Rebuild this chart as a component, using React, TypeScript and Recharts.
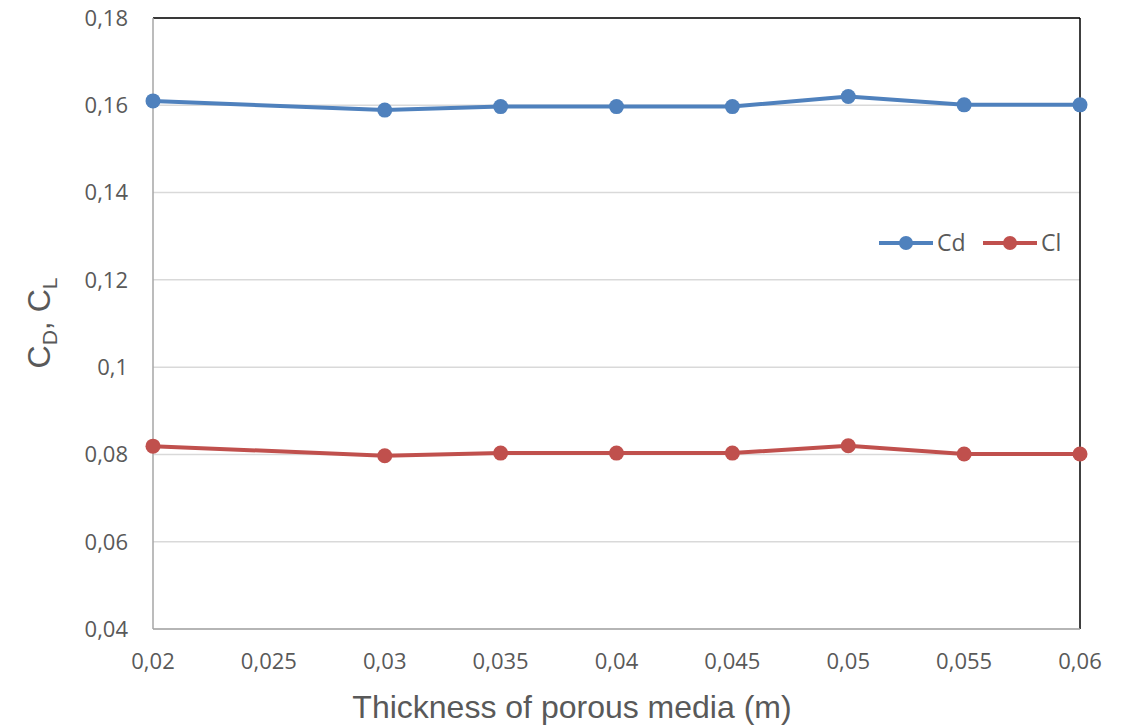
import React from "react";
import {
  LineChart,
  Line,
  XAxis,
  YAxis,
  CartesianGrid,
  ReferenceLine,
} from "recharts";

const thickness = [0.02, 0.03, 0.035, 0.04, 0.045, 0.05, 0.055, 0.06];
const cdValues = [0.161, 0.1589, 0.1597, 0.1597, 0.1597, 0.162, 0.1601, 0.1601];
const clValues = [0.0819, 0.0797, 0.0803, 0.0803, 0.0803, 0.082, 0.0801, 0.0801];
const xTicks = [0.02, 0.025, 0.03, 0.035, 0.04, 0.045, 0.05, 0.055, 0.06];
const yTicks = [0.04, 0.06, 0.08, 0.1, 0.12, 0.14, 0.16, 0.18];
const seriesNames = ["Cd", "Cl"];
const xTitle = "Thickness of porous media (m)";

const data = thickness.map((t, i) => ({ t, Cd: cdValues[i], Cl: clValues[i] }));

const BLUE = "#4f81bd";
const RED = "#c0504d";
const TEXT = "#595959";
const fmt = (v: number) => String(v).replace(".", ",");

const LegendBox = () => {
  const colors = [BLUE, RED];
  return (
    <svg width={220} height={44} style={{ position: "absolute", left: 879, top: 221 }}>
      {seriesNames.map((name, i) => {
        const x0 = i * 104;
        return (
          <g key={name}>
            <line x1={x0} x2={x0 + 54} y1={22} y2={22} stroke={colors[i]} strokeWidth={4} />
            <circle cx={x0 + 27} cy={22} r={7} fill={colors[i]} />
            <text x={x0 + 58} y={30} fontSize={23} fill={TEXT} fontFamily="Open Sans">
              {name}
            </text>
          </g>
        );
      })}
    </svg>
  );
};

const YLabel = () => (
  <text
    transform="translate(50,323) rotate(-90)"
    textAnchor="middle"
    fontSize={32}
    fill={TEXT}
    fontFamily="Liberation Sans"
  >
    <tspan>C</tspan>
    <tspan fontSize={21} dy={7}>D</tspan>
    <tspan dy={-7}>, C</tspan>
    <tspan fontSize={21} dy={7}>L</tspan>
  </text>
);

const XLabel = () => (
  <text
    x={572}
    y={718}
    textAnchor="middle"
    fontSize={32}
    fill={TEXT}
    fontFamily="Liberation Sans"
  >
    {xTitle}
  </text>
);

export default function App() {
  return (
    <div style={{ position: "absolute", left: 0, top: 0, background: "#fff", width: 1137, height: 727 }}>
      <LineChart
        width={1137}
        height={727}
        data={data}
        margin={{ top: 18, right: 57, left: 73, bottom: 0 }}
      >
        <CartesianGrid horizontal vertical={false} stroke="#d9d9d9" strokeWidth={1.5} />
        <XAxis
          dataKey="t"
          type="number"
          domain={[0.02, 0.06]}
          ticks={xTicks}
          tickFormatter={fmt}
          height={98}
          tickSize={0}
          tickMargin={24}
          stroke="#a6a6a6"
          strokeWidth={1.5}
          tick={{ fill: TEXT, fontSize: 22, fontFamily: "Open Sans" }}
          label={<XLabel />}
        />
        <YAxis
          type="number"
          domain={[0.04, 0.18]}
          ticks={yTicks}
          tickFormatter={fmt}
          width={80}
          tickSize={0}
          tickMargin={25}
          stroke="#a6a6a6"
          strokeWidth={1.5}
          tick={{ fill: TEXT, fontSize: 22, fontFamily: "Open Sans" }}
          label={<YLabel />}
        />
        <ReferenceLine y={0.18} stroke="#000" strokeWidth={1.5} />
        <ReferenceLine x={0.06} stroke="#000" strokeWidth={1.5} />
        <Line
          dataKey="Cd"
          stroke={BLUE}
          strokeWidth={4}
          dot={{ r: 7.5, fill: BLUE, stroke: BLUE, strokeWidth: 0 }}
          isAnimationActive={false}
        />
        <Line
          dataKey="Cl"
          stroke={RED}
          strokeWidth={4}
          dot={{ r: 7.5, fill: RED, stroke: RED, strokeWidth: 0 }}
          isAnimationActive={false}
        />
      </LineChart>
      <LegendBox />
    </div>
  );
}
